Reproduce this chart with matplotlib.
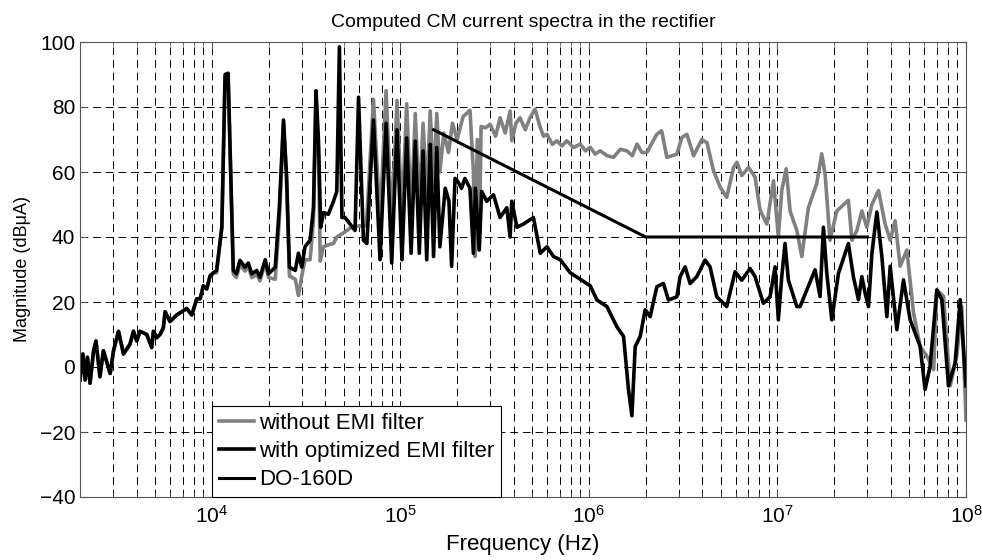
import numpy as np
import matplotlib.pyplot as plt

plt.rcParams['font.family'] = ['Liberation Sans', 'DejaVu Sans']
plt.rcParams['mathtext.fontset'] = 'custom'
plt.rcParams['mathtext.rm'] = 'Liberation Sans'
plt.rcParams['mathtext.it'] = 'Liberation Sans:italic'

# Frequencies in kHz, magnitudes in dBuA
f_with = [2.00, 2.07, 2.13, 2.19, 2.26, 2.36, 2.43, 2.55, 2.66, 2.89, 3.01, 3.20, 3.40,
          3.68, 3.84, 4.00, 4.16, 4.52, 4.80, 4.90, 5.10, 5.31, 5.53, 5.65, 6.00, 6.51,
          6.92, 7.36, 7.83, 8.32, 8.67, 9.02, 9.40, 9.79, 10.2, 10.6, 11.3, 11.76, 12.2,
          12.6, 13.0, 13.5, 14.1, 15.0, 15.6, 16.3, 17.3, 18.0, 19.2, 20.0, 21.7, 22.8,
          24.0, 24.9, 25.8, 27.7, 28.8, 30.0, 31.2, 33.2, 34.6, 35.7, 36.8, 37.8, 39.1,
          41.5, 44.2, 46.0, 47.5, 49.0, 50.9, 54.1, 57.5, 60.0, 63.7, 66.4, 72.0, 78.0,
          84.0, 90.0, 96.0, 102, 108, 114, 120, 126, 132, 138, 144, 150, 156, 162, 173,
          181, 187, 195, 202, 211, 220, 234, 244, 250, 262, 270, 287, 312, 338, 367, 382,
          390, 415, 450, 508, 552, 599, 649, 705, 796, 899, 1016, 1104, 1246, 1407, 1527,
          1622, 1691, 1760, 1871, 1988, 2113, 2292, 2486, 2641, 2927, 3046, 3238, 3441,
          3734, 4131, 4392, 4766, 5383, 5959, 6468, 7158, 7607, 8420, 9139, 9712, 10110,
          10540, 10970, 11430, 12670, 13180, 14310, 15830, 16830, 17530, 18270, 19420,
          21060, 23780, 25280, 26890, 28040, 29180, 30400, 31700, 33670, 35790, 38040,
          39630, 42970, 46600, 50560, 57100, 60690, 64500, 70060, 74460, 80730, 87600,
          93130, 100000]
db_with = [-4, 4, -4, 3, -5, 5, 8, -3, 5, -2, 5, 11, 4,
           7, 11, 8, 11, 10, 6, 11, 9, 10, 12, 17, 14, 16,
           17, 18, 16, 21, 21, 25, 24, 28, 29, 29.7, 43, 90, 90.4,
           59, 29.7, 28.7, 32.8, 30.7, 32, 28.7, 29.7, 27.6, 33, 28.7, 30.7, 49,
           76, 59, 30.7, 29.7, 35, 30.7, 37, 39, 49, 85, 69.5, 43, 47.5,
           47, 51, 54, 98.5, 46, 46, 44, 42, 83, 39, 38, 76, 33,
           75, 32, 73, 33, 70.5, 35, 69.5, 35, 66.5, 33, 68.5, 34, 67.5, 37, 55,
           51, 31, 58, 57, 55, 58, 55, 35, 55, 36, 54, 51, 53, 46, 49, 40,
           51, 43, 44, 46, 35, 37, 34, 33, 29, 27, 25, 20.6, 18.6, 12.4, 9.4,
           -7, -15, 6.3, 9.4, 17.6, 15.5, 24.7, 25.7, 20.6, 21.6, 27.8, 30.8, 25.7,
           27.8, 32.9, 30.8, 21.6, 18.6, 29.3, 26.7, 30.3, 27.8, 19.6, 21.6, 30.8, 14.5,
           27.8, 38, 26.7, 18.6, 18.6, 23.7, 29.9, 21.7, 43, 28.8, 14.5,
           28.8, 38, 27.8, 20.7, 27.8, 22.7, 18.6, 35, 47.7, 34, 15.5,
           31, 11.5, 26.8, 14.5, 6.4, -6.9, 0.2, 23.7, 20.7, -5.8, 1.3,
           20.7, -5.8]

f_without = [2.00, 2.07, 2.13, 2.19, 2.26, 2.36, 2.43, 2.55, 2.66, 2.89, 3.01, 3.20, 3.40,
             3.68, 3.84, 4.00, 4.16, 4.52, 4.80, 4.90, 5.10, 5.31, 5.53, 5.65, 6.00, 6.51,
             6.92, 7.36, 7.83, 8.32, 8.67, 9.02, 9.40, 9.79, 10.2, 10.6, 11.3, 11.76, 12.2,
             12.6, 13.0, 13.5, 14.1, 15.0, 15.6, 16.3, 17.3, 18.0, 19.2, 20.0, 21.7, 22.8,
             24.0, 24.9, 25.8, 27.7, 28.8, 30.0, 31.2, 33.2, 34.6, 35.7, 36.8, 37.6, 39.1,
             42.0, 44.2, 46.0, 49.2, 55.0, 60.0, 66.0, 72.0, 78.0, 84.0, 90.0, 96.0, 102,
             108, 114, 120, 126, 132, 138, 144, 150, 156, 162, 170, 180, 189, 200, 215,
             234, 244, 249, 256, 262, 268, 283, 299, 320, 338, 360, 382, 390, 410, 431,
             460, 487, 518, 552, 575, 599, 640, 676, 720, 763, 830, 899, 960, 1016, 1080,
             1147, 1250, 1350, 1470, 1590, 1700, 1800, 1910, 2030, 2290, 2430, 2590,
             2930, 3110, 3310, 3590, 3970, 4230, 4580, 4970, 5380, 5850, 6100, 6470, 7030,
             7610, 8090, 8790, 9530, 10110, 10540, 11120, 11670, 12670, 13460, 14590,
             16150, 17170, 17890, 19000, 20640, 23780, 24840, 26370, 28040, 29790, 31700,
             34340, 37250, 39630, 42070, 44740, 48560, 52710, 57100, 62090, 67370, 70060,
             76060, 82450, 89300, 95000, 100000]
db_without = [-4, 4, -4, 3, -5, 5, 8, -3, 5, -2, 5, 11, 4,
              7, 11, 8, 11, 10, 6, 11, 9, 10, 12, 17, 14, 16,
              17, 18, 16, 21, 21, 25, 24, 28, 29, 29, 43, 89, 89.5,
              58, 28.5, 27.5, 31.5, 29.5, 31, 27.5, 28.5, 26.5, 32, 27.5, 27, 45,
              75, 58, 28, 27, 22, 28, 33, 33, 45, 84, 65, 32.6, 37,
              37.7, 38, 40, 41, 43, 43.4, 43.4, 82.4, 45, 85, 44, 82, 46,
              81, 47, 78, 50, 75, 52, 78.8, 55, 78, 60, 72, 66, 75, 70, 77,
              79, 60, 34, 70, 36, 74, 73.6, 74.7, 71, 76.7, 72, 78.8, 69.6, 75, 76.7,
              73, 76.7, 79.3, 73.7, 71, 71.6, 68.5, 69.6, 68, 69.6, 67.5, 68.6, 66.5, 67.6, 65.5,
              66.5, 65, 64.5, 67, 66.5, 65, 68.6, 66, 66, 71.6, 72.7, 64.5,
              65.5, 70.6, 71.6, 65, 70, 69, 60.4, 55.3, 52.2, 61.4, 63, 58.9, 61.4,
              58.4, 48.2, 44, 57.3, 40, 54.3, 61, 48, 42, 34, 49,
              56.4, 65.6, 59.4, 39, 48, 51.3, 39, 42, 48, 43, 50,
              54.3, 44, 39, 45, 31, 36, 16.6, 6.4, 3.3, -0.8, 23.7,
              21.7, -5.8, 3.3, 18.6, -16.3]

# DO-160D limit line
f_limit = [150, 2000, 30000]
db_limit = [73, 40, 40]

fig = plt.figure(figsize=(9.82, 5.6), dpi=100)
ax = fig.add_axes([0.0815, 0.1125, 0.9022, 0.8125])

ax.semilogx(np.array(f_without) * 1e3, db_without, color='#808080', lw=2.6,
            label='without EMI filter')
ax.semilogx(np.array(f_with) * 1e3, db_with, color='k', lw=2.6,
            label='with optimized EMI filter')
ax.semilogx(np.array(f_limit) * 1e3, db_limit, color='k', lw=2.2, label='DO-160D')

ax.set_xlim(2e3, 1e8)
ax.set_ylim(-40, 100)
ax.set_yticks(range(-40, 101, 20))

# matlab style dashed grid
ax.set_axisbelow(True)
ax.grid(True, which='both', axis='x', color='k', ls=(0, (8, 5)), lw=0.7)
ax.grid(True, which='major', axis='y', color='k', ls=(0, (8, 5)), lw=0.7)
ax.tick_params(which='both', direction='in', top=True, right=True, labelsize=15,
               color='#555555')
ax.tick_params(which='major', length=5)
ax.tick_params(which='minor', length=3)
ax.tick_params(axis='x', pad=6)
for s in ax.spines.values():
    s.set_color('#555555')

ax.set_title('Computed CM current spectra in the rectifier', fontsize=14, pad=11)
ax.set_xlabel('Frequency (Hz)', fontsize=16, labelpad=5)
ax.set_ylabel('Magnitude (dBμA)', fontsize=13, labelpad=6)

leg = ax.legend(loc='lower left', bbox_to_anchor=(0.149, 0.0), borderaxespad=0,
                fancybox=False, edgecolor='k', framealpha=1, fontsize=16,
                handlelength=1.6, handletextpad=0.2, labelspacing=0.32,
                borderpad=0.3)
leg.get_frame().set_linewidth(0.8)

fig.savefig('out.png', dpi=100)
